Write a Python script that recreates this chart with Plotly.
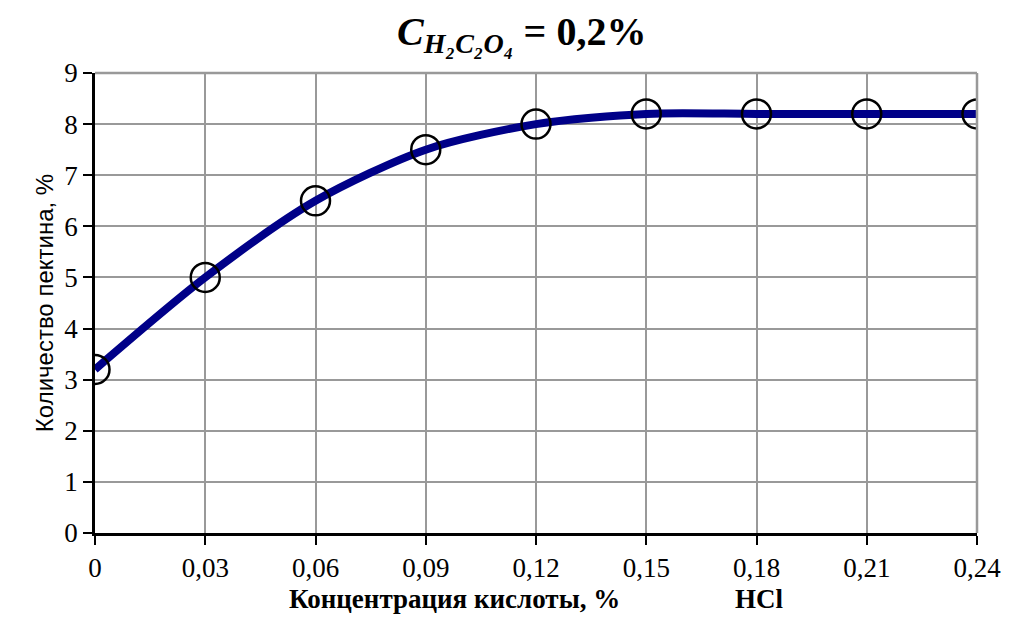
import plotly.graph_objects as go

x_vals = [0, 0.03, 0.06, 0.09, 0.12, 0.15, 0.18, 0.21, 0.24]
y_vals = [3.2, 5.0, 6.5, 7.5, 8.0, 8.2, 8.2, 8.2, 8.2]
x_ticks = [0, 0.03, 0.06, 0.09, 0.12, 0.15, 0.18, 0.21, 0.24]
x_tick_text = ["0", "0,03", "0,06", "0,09", "0,12", "0,15", "0,18", "0,21", "0,24"]
y_ticks = [0, 1, 2, 3, 4, 5, 6, 7, 8, 9]

serif = "Liberation Serif, Times New Roman, serif"
sans = "Liberation Sans Narrow, Liberation Sans, Arial, sans-serif"

fig = go.Figure()
fig.add_trace(go.Scatter(
    x=x_vals, y=y_vals, mode="lines",
    line=dict(color="#000088", width=8, shape="spline", smoothing=0.8),
    showlegend=False, hoverinfo="skip"))
fig.add_trace(go.Scatter(
    x=x_vals, y=y_vals, mode="markers",
    marker=dict(symbol="circle-open", size=29, color="black", line=dict(width=2.5, color="black")),
    showlegend=False))

fig.update_layout(
    width=1013, height=621,
    paper_bgcolor="white", plot_bgcolor="white",
    margin=dict(l=95, r=30, t=73, b=87),
    title=dict(
        text="<b><i>C</i></b><sub><b><i>H₂C₂O₄</i></b></sub><b> = 0,2%</b>",
        x=0.515, xanchor="center", y=0.95, yanchor="middle",
        font=dict(family=serif, size=40, color="black")),
    xaxis=dict(
        range=[0, 0.24], tickvals=x_ticks, ticktext=x_tick_text,
        showgrid=True, gridcolor="#999999", gridwidth=2,
        showline=True, linecolor="black", linewidth=2.5,
        ticks="outside", ticklen=9, tickwidth=2, tickcolor="black",
        tickfont=dict(family=serif, size=27, color="black"),
        zeroline=False,
        title=dict(text="<b>Концентрация кислоты, %                 HCl</b>",
                   font=dict(family=serif, size=27, color="black"), standoff=7)),
    yaxis=dict(
        range=[0, 9], tickvals=y_ticks,
        showgrid=True, gridcolor="#999999", gridwidth=2,
        showline=True, linecolor="black", linewidth=2.5,
        ticks="outside", ticklen=9, tickwidth=2, tickcolor="black",
        tickfont=dict(family=serif, size=27, color="black"),
        zeroline=False,
        title=dict(text="Количество пектина, %",
                   font=dict(family=sans, size=24, color="black"), standoff=4)),
    shapes=[
        dict(type="line", xref="paper", yref="paper", x0=0, x1=1, y0=1, y1=1,
             line=dict(color="#999999", width=2.5)),
        dict(type="line", xref="paper", yref="paper", x0=1, x1=1, y0=0, y1=1,
             line=dict(color="#999999", width=2.5)),
    ],
)

fig.write_html("out.html", config={"displayModeBar": False},
               post_script="document.body.style.margin='0';document.body.style.overflow='hidden';")
